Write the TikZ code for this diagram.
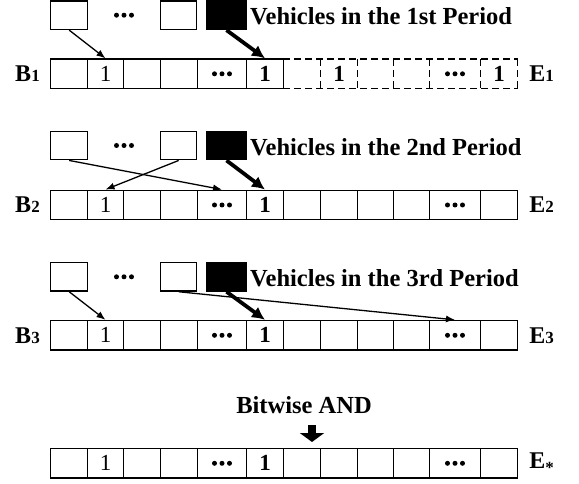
\documentclass[tikz,border=0pt]{standalone}
\usepackage{fontspec}
\setmainfont{Liberation Serif}
\usetikzlibrary{arrows.meta}
\newcommand\subnum[1]{{\fontsize{17}{17}\selectfont #1}}
\begin{document}
\begin{tikzpicture}[x=1pt,y=-1pt,
  cell/.style={draw, line width=1.4pt, minimum height=29.5pt, inner sep=0pt, font=\fontsize{23}{23}\selectfont},
  ghost/.style={minimum height=29.5pt, inner sep=0pt, font=\fontsize{23}{23}\selectfont},
  dashline/.style={line width=1.4pt, dash pattern=on 7pt off 4pt},
  vbox/.style={draw, line width=1.4pt, minimum height=28.5pt, inner sep=0pt},
  kbox/.style={vbox, fill=black},
  dotmark/.style={fill=black},
  thinarr/.style={line width=1.3pt, -{Latex[length=9pt,width=7pt]}},
  thickarr/.style={line width=3.8pt, -{Latex[length=13pt,width=13pt]}},
  title/.style={font=\fontsize{24.5}{26}\selectfont\bfseries, anchor=base west, inner sep=0pt},
  lbl/.style={font=\fontsize{24}{24}\selectfont\bfseries, inner sep=0pt}]
\useasboundingbox (0,0) rectangle (579,484);

% ---------- arrays ----------
% row 1 (solid part)
\foreach \i/\xc/\w/\t in {1/69/37/{}, 2/105.5/36/{1}, 3/142/37/{}, 4/179/37/{}, 5/222/49/{}, 6/265/37/{\bfseries 1}}
  \node[cell, minimum width=\w pt] (r1c\i) at (\xc,73.8) {\t};
% row 1 (dashed part)
\foreach \i/\xc/\w/\t in {7/302/37/{}, 8/339/37/{\bfseries 1}, 9/375.5/36/{}, 10/411.5/36/{}, 11/455/51/{}, 12/499/37/{\bfseries 1}}
  \node[ghost, minimum width=\w pt] (r1c\i) at (\xc,73.8) {\t};
\draw[dashline] (r1c7.north west) -- (r1c12.north east);
\draw[dashline] (r1c7.south west) -- (r1c12.south east);
\foreach \i in {8,...,12} \draw[dashline] (r1c\i.north west) -- (r1c\i.south west);
\draw[dashline] (r1c12.north east) -- (r1c12.south east);

% rows 2-4
\foreach \r/\yc in {2/205, 3/335.3, 4/463.3}
  \foreach \i/\xc/\w/\t in {1/69/37/{}, 2/105.5/36/{1}, 3/142/37/{}, 4/179/37/{}, 5/222/49/{}, 6/265/37/{\bfseries 1}, 7/302/37/{}, 8/339/37/{}, 9/375.5/36/{}, 10/411.5/36/{}, 11/455/51/{}, 12/499/37/{}}
    \node[cell, minimum width=\w pt] (r\r c\i) at (\xc,\yc) {\t};

% ---------- side labels ----------
\node[lbl] (b1) at (27.5,73.8) {B\subnum{1}};
\node[lbl] (e1) at (541.5,73.8) {E\subnum{1}};
\node[lbl] (b2) at (27.5,205) {B\subnum{2}};
\node[lbl] (e2) at (541.5,205) {E\subnum{2}};
\node[lbl] (b3) at (27.5,335.3) {B\subnum{3}};
\node[lbl] (e3) at (541.5,335.3) {E\subnum{3}};
\node[lbl] (es) at (541.5,463.3) {E\raisebox{-5pt}{\subnum{*}}};

% ---------- vehicle boxes ----------
\foreach \r/\yc in {1/15.2, 2/145.5, 3/276.8} {
  \node[vbox, minimum width=37pt] (v\r a) at (69.2,\yc) {};
  \coordinate (v\r d) at (124,\yc);
  \node[vbox, minimum width=36pt] (v\r b) at (178.7,\yc) {};
  \node[kbox, minimum width=39pt] (v\r k) at (226.5,\yc) {};
}
\node[title] (t1) at (250,25) {Vehicles in the 1st Period};
\node[title] (t2) at (250,156) {Vehicles in the 2nd Period};
\node[title] (t3) at (250,287) {Vehicles in the 3rd Period};

% ---------- ellipsis dots ----------
\foreach \p in {v1d, v2d, v3d, r1c5, r1c11, r2c5, r2c11, r3c5, r3c11, r4c5, r4c11}
  \foreach \k in {-7.5,0,7.5}
    \fill[dotmark] ([xshift=\k pt]\p.center) circle (2.5pt);

% ---------- connectors ----------
\draw[thinarr] (v1a.south) -- (r1c2.north);
\draw[thickarr] (v1k.south) -- (r1c6.north);

\draw[thinarr] (v2a.south) -- (r2c5.north);
\draw[thinarr] (v2b.south) -- (r2c2.north);
\draw[thickarr] (v2k.south) -- (r2c6.north);

\draw[thinarr] (v3a.south) -- (r3c2.north);
\draw[thinarr] (v3b.south) -- (r3c11.north);
\draw[thickarr] (v3k.south) -- (r3c6.north);

% ---------- bitwise AND ----------
\node[title, anchor=base] (andlbl) at (304,413) {Bitwise AND};
\coordinate (andA) at (312,425);
\coordinate (andB) at (312,442);
\draw[line width=8pt, -{Triangle[length=9pt,width=24pt]}] (andA) -- (andB);
\end{tikzpicture}
\end{document}
